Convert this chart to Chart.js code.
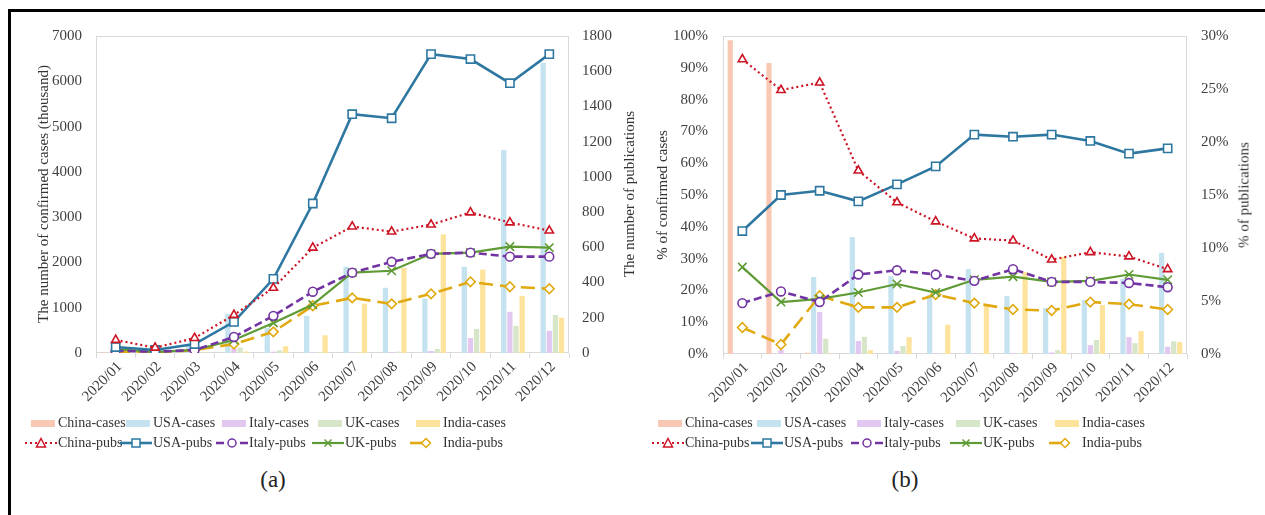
<!DOCTYPE html>
<html>
<head>
<meta charset="utf-8">
<script src="https://cdn.jsdelivr.net/npm/chart.js@4.4.0/dist/chart.umd.min.js"></script>
<style>
  html, body { margin: 0; padding: 0; background: #fff; }
  body { width: 1265px; height: 515px; position: relative; overflow: hidden;
         font-family: 'Liberation Serif', 'Times New Roman', serif; color: #333; }
  .frame { position: absolute; left: 8px; top: 9px; width: 1400px; height: 700px;
           border-top: 3px solid #000; border-left: 3px solid #000; }
  canvas { position: absolute; top: 0; }
  .ttl { position: absolute; font-size: 15px; white-space: nowrap; color: #333;
         transform: translate(-50%, -50%) rotate(-90deg); }
  .lg  { position: absolute; font-size: 14px; line-height: 16px; white-space: nowrap; color: #333; }
  .sw  { position: absolute; }
  .cap { position: absolute; font-size: 23px; color: #222; transform: translate(-50%, -50%); }
</style>
</head>
<body>
<div class="frame"></div>
<canvas id="chartA" width="632" height="420" style="left:0"></canvas>
<canvas id="chartB" width="633" height="420" style="left:632px"></canvas>

<div class="ttl" style="left:43px;top:194px">The number of confirmed cases (thousand)</div>
<div class="ttl" style="left:629px;top:194px">The number of publications</div>
<div class="ttl" style="left:662px;top:195px">% of confirmed cases</div>
<div class="ttl" style="left:1244px;top:195px">% of publications</div>

<div id="legendA"></div>
<div id="legendB"></div>
<div class="cap" style="left:273px;top:480px">(a)</div>
<div class="cap" style="left:905px;top:480px">(b)</div>

<script>
// ── data ──────────────────────────────────────────────────────────
const months    = ["2020/01","2020/02","2020/03","2020/04","2020/05","2020/06",
                   "2020/07","2020/08","2020/09","2020/10","2020/11","2020/12"];
const countries = ["China", "USA", "Italy", "UK", "India"];

// (a) monthly confirmed cases, thousand
const chinaCasesK = [12, 68, 3, 1, 0.2, 0.5, 2, 2, 0.5, 0.5, 0.5, 2];
const usaCasesK   = [0, 0, 190, 865, 550, 820, 1905, 1440, 1200, 1905, 4480, 6410];
const italyCasesK = [0, 1, 100, 100, 30, 7, 7, 21, 45, 330, 910, 490];
const ukCasesK    = [0, 0, 25, 120, 60, 25, 20, 30, 90, 530, 600, 840];
const indiaCasesK = [0, 0, 1, 33, 150, 390, 1090, 1880, 2620, 1840, 1260, 780];

// (a) number of publications
const chinaPubs = [74, 30, 85, 216, 370, 598, 718, 689, 729, 798, 741, 695];
const usaPubs   = [34, 17, 51, 177, 421, 849, 1356, 1333, 1697, 1669, 1532, 1697];
const italyPubs = [13, 7, 17, 91, 211, 348, 456, 518, 563, 570, 547, 547];
const ukPubs    = [22, 6, 17, 74, 171, 275, 456, 467, 563, 570, 604, 598];
const indiaPubs = [7, 1, 17, 51, 120, 268, 313, 279, 336, 404, 376, 365];

// (b) share of confirmed cases, %
const chinaCasesPct = [98.7, 91.5, 0.4, 0.1, 0, 0, 0, 0, 0, 0, 0, 0];
const usaCasesPct   = [0.1, 0, 24.2, 36.8, 24.5, 18.6, 26.7, 18.2, 14.5, 17, 23.6, 31.8];
const italyCasesPct = [0, 1.3, 13.2, 4.1, 1.0, 0.2, 0.2, 0.3, 0.5, 2.8, 5.3, 2.3];
const ukCasesPct    = [0, 0, 4.8, 5.4, 2.5, 0.3, 0.3, 0.3, 1.2, 4.4, 3.4, 4.0];
const indiaCasesPct = [0, 0, 0.1, 1.2, 5.3, 9.2, 15.4, 25.8, 30.5, 15.4, 7.2, 3.8];

// (b) share of publications, %
const chinaPubsPct = [27.8, 24.9, 25.6, 17.3, 14.3, 12.5, 10.9, 10.7, 8.9, 9.6, 9.2, 8.0];
const usaPubsPct   = [11.6, 15.0, 15.4, 14.4, 16.0, 17.7, 20.7, 20.5, 20.7, 20.1, 18.9, 19.4];
const italyPubsPct = [4.8, 5.9, 4.9, 7.5, 7.9, 7.5, 6.9, 8.0, 6.8, 6.8, 6.7, 6.3];
const ukPubsPct    = [8.2, 4.9, 5.2, 5.8, 6.6, 5.8, 7.0, 7.3, 6.8, 6.9, 7.5, 7.0];
const indiaPubsPct = [2.5, 0.9, 5.5, 4.4, 4.4, 5.6, 4.8, 4.2, 4.1, 4.9, 4.7, 4.2];

// axis ticks
const casesTicksA = [0, 1000, 2000, 3000, 4000, 5000, 6000, 7000];
const pubsTicksA  = [0, 200, 400, 600, 800, 1000, 1200, 1400, 1600, 1800];
const casesTicksB = [0, 10, 20, 30, 40, 50, 60, 70, 80, 90, 100];
const pubsTicksB  = [0, 5, 10, 15, 20, 25, 30];

// ── styles ────────────────────────────────────────────────────────
const FONT       = "'Liberation Serif', 'Times New Roman', serif";
const TICK_COLOR = "#404040";
const barColors  = ["#f8c8b4", "#c4e2ef", "#e2c8f0", "#d7e6c8", "#fde39b"];
const lineColors = ["#cc1424", "#2d77a1", "#7233a3", "#5f9b34", "#e1a90f"];
const lineWidths = [2.2, 2.6, 2.6, 2.2, 2.6];
const lineDashes = [[2, 3], [], [8, 4], [], [14, 7]];
const markers    = ["triangle", "rect", "circle", "crossRot", "rectRot"];
const markerSize = [4.8, 5.8, 4.4, 6, 4.8];

const plotFrame = {
  id: "plotFrame",
  beforeDatasetsDraw(chart) {
    const { ctx, chartArea: a } = chart;
    ctx.save();
    ctx.strokeStyle = "#d9d9d9";
    ctx.lineWidth = 1;
    ctx.strokeRect(Math.round(a.left) + 0.5, Math.round(a.top) + 0.5,
                   Math.round(a.width) - 1, Math.round(a.height) - 1);
    ctx.restore();
  },
};

function makeChart(id, cases, pubs, leftTicks, rightTicks, fmt, box) {
  const barSets = cases.map((d, i) => ({
    type: "bar", label: countries[i] + "-cases", data: d, yAxisID: "y",
    backgroundColor: barColors[i], borderWidth: 0,
    categoryPercentage: 0.78, barPercentage: 0.86, order: 2,
  }));
  const lineSets = pubs.map((d, i) => ({
    type: "line", label: countries[i] + "-pubs", data: d, yAxisID: "y1",
    borderColor: lineColors[i], borderWidth: lineWidths[i], borderDash: lineDashes[i],
    tension: 0, fill: false,
    pointStyle: markers[i], pointRadius: markerSize[i], pointBorderWidth: 1.6,
    pointBackgroundColor: "#fff", pointBorderColor: lineColors[i], order: 1,
  }));
  const tickFont = { family: FONT, size: 15 };

  return new Chart(document.getElementById(id), {
    data: { labels: months, datasets: barSets.concat(lineSets) },
    options: {
      responsive: false,
      animation: false,
      layout: { padding: { left: 0, right: 0, top: box.top, bottom: 0 } },
      plugins: { legend: { display: false }, tooltip: { enabled: false } },
      scales: {
        x: {
          offset: true,
          grid: { display: true, drawOnChartArea: false, offset: true, tickLength: 5, color: "#d9d9d9" },
          border: { display: false },
          ticks: { font: tickFont, color: TICK_COLOR, minRotation: 45, maxRotation: 45,
                   autoSkip: false, padding: 0, labelOffset: 4 },
          afterFit: s => { s.height = box.h - box.bottom; },
        },
        y: {
          position: "left",
          min: leftTicks[0], max: leftTicks[leftTicks.length - 1],
          ticks: { stepSize: leftTicks[1] - leftTicks[0], font: tickFont, color: TICK_COLOR,
                   padding: box.padL, callback: v => fmt(v) },
          grid: { display: false, drawTicks: false },
          border: { display: false },
          afterFit: s => { s.width = box.left; },
        },
        y1: {
          position: "right",
          min: rightTicks[0], max: rightTicks[rightTicks.length - 1],
          ticks: { stepSize: rightTicks[1] - rightTicks[0], font: tickFont, color: TICK_COLOR,
                   padding: box.padR, callback: v => fmt(v) },
          grid: { display: false, drawTicks: false },
          border: { display: false },
          afterFit: s => { s.width = box.w - box.right; },
        },
      },
    },
    plugins: [plotFrame],
  });
}

makeChart("chartA",
  [chinaCasesK, usaCasesK, italyCasesK, ukCasesK, indiaCasesK],
  [chinaPubs, usaPubs, italyPubs, ukPubs, indiaPubs],
  casesTicksA, pubsTicksA, v => String(v),
  { w: 632, h: 420, left: 96, right: 569, top: 36, bottom: 353, padL: 14, padR: 13 });

makeChart("chartB",
  [chinaCasesPct, usaCasesPct, italyCasesPct, ukCasesPct, indiaCasesPct],
  [chinaPubsPct, usaPubsPct, italyPubsPct, ukPubsPct, indiaPubsPct],
  casesTicksB, pubsTicksB, v => v + "%",
  { w: 633, h: 420, left: 91, right: 555, top: 36, bottom: 354, padL: 15, padR: 14 });

// ── legends (HTML, two rows of five) ──────────────────────────────
function markerSvg(i) {
  const c = lineColors[i];
  const a = `fill="#fff" stroke="${c}" stroke-width="1.5"`;
  switch (markers[i]) {
    case "triangle": return `<polygon points="16,1.5 20.5,10 11.5,10" ${a}/>`;
    case "rect":     return `<rect x="12" y="2" width="8" height="8" ${a}/>`;
    case "circle":   return `<circle cx="16" cy="6" r="4" ${a}/>`;
    case "crossRot": return `<path d="M12.5 2.5 L19.5 9.5 M19.5 2.5 L12.5 9.5" stroke="${c}" stroke-width="1.5"/>`;
    default:         return `<polygon points="16,1.5 20.5,6 16,10.5 11.5,6" ${a}/>`;
  }
}

function buildLegend(el, textX, rowY) {
  let html = "";
  countries.forEach((name, i) => {
    const x = textX[i];
    html += `<div class="sw" style="left:${x - 27}px;top:${rowY[0] - 3}px;width:24px;height:7px;background:${barColors[i]}"></div>`;
    html += `<div class="lg" style="left:${x}px;top:${rowY[0] - 8}px">${name}-cases</div>`;
    const dash = lineDashes[i].length ? `stroke-dasharray="${lineDashes[i][0]},${lineDashes[i][1]}"` : "";
    const x2 = i === 4 ? 14 : 32;
    html += `<svg class="sw" width="32" height="12" style="left:${x - 33}px;top:${rowY[1] - 6}px">` +
            `<line x1="0" y1="6" x2="${x2}" y2="6" stroke="${lineColors[i]}" stroke-width="${lineWidths[i]}" ${dash}/>` +
            markerSvg(i) + `</svg>`;
    html += `<div class="lg" style="left:${x}px;top:${rowY[1] - 8}px">${name}-pubs</div>`;
  });
  el.innerHTML = html;
}

buildLegend(document.getElementById("legendA"), [58, 153, 249, 345, 443], [423, 443]);
buildLegend(document.getElementById("legendB"), [685, 784, 884, 983, 1082], [423, 443]);
</script>
</body>
</html>
